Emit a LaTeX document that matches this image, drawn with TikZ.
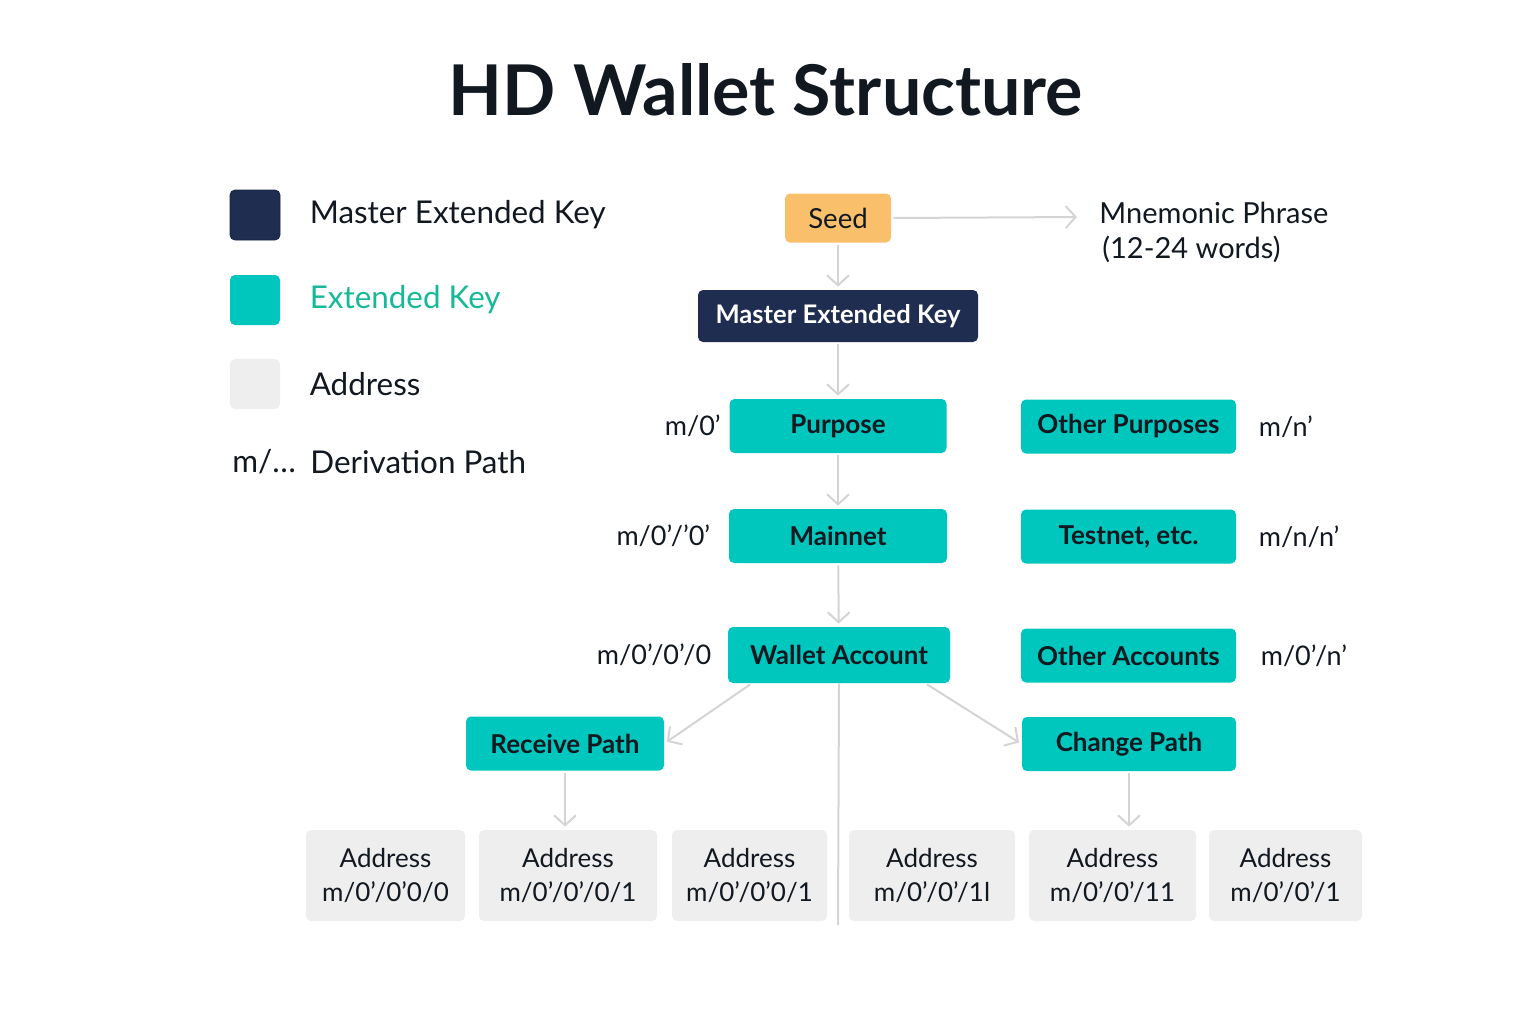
\documentclass[tikz,border=0pt]{standalone}
\usepackage{fontspec}
\setmainfont{Lato}
\usetikzlibrary{arrows.meta,calc,positioning}

\definecolor{navy}{RGB}{31,45,80}
\definecolor{tealkey}{RGB}{0,199,190}
\definecolor{seedorange}{RGB}{249,191,106}
\definecolor{addrgray}{RGB}{238,238,238}
\definecolor{linegray}{RGB}{212,212,212}
\definecolor{legendgreen}{RGB}{22,185,150}
\definecolor{ink}{RGB}{17,24,32}

\tikzset{
  conn/.style={draw=linegray, line width=1pt},
  arr/.style={conn, -{Straight Barb[length=5pt,width=11pt]}, shorten <=1pt, shorten >=1.5pt},
  keybox/.style={rounded corners=2.5pt, fill=tealkey, text=ink, minimum height=27pt,
    font=\fontsize{13}{15}\selectfont\bfseries},
  addr/.style={rounded corners=2.5pt, fill=addrgray, text=ink, minimum height=45.5pt,
    align=center, font=\fontsize{13}{17}\selectfont},
  dpath/.style={inner sep=0pt, text=ink, font=\fontsize{13.5}{16}\selectfont},
  legsq/.style={rounded corners=2.5pt, minimum size=25pt, inner sep=0pt},
  legtext/.style={inner sep=0pt, text=ink, font=\fontsize{15.7}{18}\selectfont}
}

\begin{document}
\begin{tikzpicture}[x=0.5pt,y=-0.5pt]
\useasboundingbox (0,0) rectangle (1536,1024);

\node[text=ink, font=\fontsize{35}{42}\selectfont\bfseries] (title) at (766,90) {HD Wallet Structure};

% legend
\node[legsq, fill=navy, draw=navy!80!black] (lgmaster) at (255,215) {};
\node[legsq, fill=tealkey] (lgext) at (255,300) {};
\node[legsq, fill=addrgray] (lgaddr) at (255,384) {};
\node[legtext, right=14.5pt of lgmaster] {Master Extended Key};
\node[legtext, right=14.5pt of lgext, text=legendgreen] {Extended Key};
\node[legtext, right=14.5pt of lgaddr] {Address};
\node[legtext, anchor=west] (lgm) at (232,462) {m/…};
\node[legtext, anchor=west] at (310,462) {Derivation Path};

% main column
\node[rounded corners=2.5pt, fill=seedorange, text=ink, minimum width=53pt, minimum height=24.5pt,
  font=\fontsize{13.8}{16}\selectfont] (seed) at (838,218) {Seed};
\node[rounded corners=2.5pt, fill=navy, text=white, minimum width=140pt, minimum height=26pt,
  font=\fontsize{12.8}{15}\selectfont\bfseries] (master) at (838,316) {Master Extended Key};
\node[keybox, minimum width=108.5pt] (purpose) at (838,426) {Purpose};
\node[keybox, minimum width=109pt] (mainnet) at (838,536) {Mainnet};
\node[keybox, minimum width=111pt, minimum height=28pt] (wallet) at (839,655) {Wallet Account};

% right column
\node[keybox, minimum width=107.5pt] (otherpurp) at (1128.5,426.5) {Other Purposes};
\node[keybox, minimum width=107.5pt] (testnet) at (1128.5,536.5) {Testnet, etc.};
\node[keybox, minimum width=107.5pt] (otheracc) at (1128.5,655.5) {Other Accounts};

% branches
\node[keybox, minimum width=99pt] (receive) at (565,743.5) {Receive Path};
\node[keybox, minimum width=107pt] (change) at (1129,744) {Change Path};

% derivation paths
\node[dpath, left=4pt of purpose] {m/0’};
\node[dpath, left=9pt of mainnet] {m/0’/’0’};
\node[dpath, left=8pt of wallet] {m/0’/0’/0};
\node[dpath, right=11pt of otherpurp] {m/n’};
\node[dpath, right=11pt of testnet] {m/n/n’};
\node[dpath, right=12pt of otheracc] {m/0’/n’};

% mnemonic
\node[legtext, align=left, anchor=west, font=\fontsize{14.5}{17.5}\selectfont] (mnem) at (1099,232)
  {Mnemonic Phrase\\\hspace*{1.5pt}(12-24 words)};
\coordinate (mnemtip) at (1080,217);

% addresses
\foreach \i/\cx/\w/\p in {1/385.5/79.5pt/{m/0’/0’0/0}, 2/568/89pt/{m/0’/0’/0/1},
    3/749.5/77.5pt/{m/0’/0’0/1}, 4/932/83pt/{m/0’/0’/1l},
    5/1112.5/83.5pt/{m/0’/0’/11}, 6/1285.5/76.5pt/{m/0’/0’/1}}
  \node[addr, minimum width=\w] (addr\i) at (\cx,875.5) {Address\\\p};
\coordinate (tail) at (838,925);

% connectors
\draw[arr] (seed.east) -- (mnemtip);
\draw[arr] (seed) -- (master);
\draw[arr] (master) -- (purpose);
\draw[arr] (purpose) -- (mainnet);
\draw[arr] (mainnet) -- (wallet);
\draw[arr] ($(wallet.south west)+(24,0)$) -- (receive.east);
\draw[arr] ($(wallet.south east)+(-25,0)$) -- (change.west);
\draw[conn] (wallet.south) -- (tail);
\draw[arr] (receive.south) -- (receive.south |- addr2.north);
\draw[arr] (change.south) -- (change.south |- addr5.north);

\end{tikzpicture}
\end{document}
